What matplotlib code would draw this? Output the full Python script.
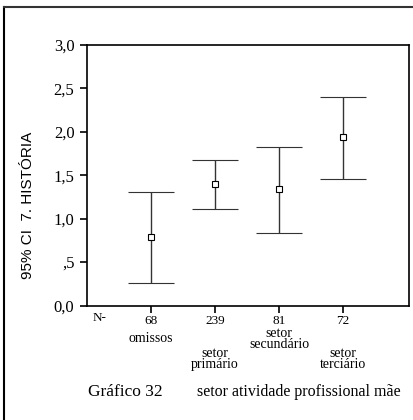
import matplotlib
matplotlib.use("Agg")
import matplotlib.pyplot as plt
from matplotlib.lines import Line2D
import matplotlib.transforms as mtransforms

# values
groups = ["omissos", "setor\nprimário", "setor\nsecundário", "setor\nterciário"]
counts = [68, 239, 81, 72]
means = [0.79, 1.40, 1.34, 1.94]
lower = [0.26, 1.11, 0.84, 1.46]
upper = [1.31, 1.68, 1.83, 2.40]
yticks = [0.0, 0.5, 1.0, 1.5, 2.0, 2.5, 3.0]
ytick_labels = ["0,0", ",5", "1,0", "1,5", "2,0", "2,5", "3,0"]

serif = "Liberation Serif"


def main():
    fig = plt.figure(figsize=(4.13, 4.2), dpi=100)
    W, H = 413, 420
    ax = fig.add_axes([87 / W, 1 - 305.5 / H, 322 / W, 260.5 / H])

    xs = list(range(1, len(groups) + 1))
    err_lo = [m - lo for m, lo in zip(means, lower)]
    err_hi = [hi - m for m, hi in zip(means, upper)]
    _, caps, bars = ax.errorbar(xs, means, yerr=[err_lo, err_hi], fmt="s",
                                mfc="white", mec="black", mew=0.8, ms=5,
                                ecolor="#333333", elinewidth=1.0,
                                capsize=16.5, capthick=1.6)
    for c in caps:
        c.set_color("#6e6e6e")

    ax.set_xlim(0, 5.03)
    ax.set_ylim(0, 3.0)
    ax.set_yticks(yticks)
    ax.set_yticklabels(ytick_labels, fontfamily=serif, fontsize=12)
    ax.set_xticks(xs)
    ax.set_xticklabels([str(c) for c in counts], fontfamily=serif, fontsize=9.5)
    ax.tick_params(axis="both", direction="out", length=5, width=1.2, colors="black")
    ax.tick_params(axis="x", pad=1.5)
    ax.tick_params(axis="y", pad=4)
    for s in ax.spines.values():
        s.set_linewidth(1.2)

    trans = mtransforms.blended_transform_factory(ax.transData, fig.transFigure)
    ax.text(0.08, 1 - 318 / H, "N-", transform=trans, fontfamily=serif,
            fontsize=9.5, ha="left", va="center")
    label_y = [338, 359, 339, 359]
    for x, g, y in zip(xs, groups, label_y):
        ax.text(x, 1 - y / H, g, transform=trans, fontfamily=serif,
                fontsize=10, ha="center", va="center", linespacing=0.8)

    fig.text(28 / W, 1 - 205 / H, "95% CI  7. HISTÓRIA", rotation=90,
             fontfamily="Liberation Sans", fontsize=11, ha="center", va="center")

    fig.text(88 / W, 1 - 392 / H, "Gráfico 32", fontfamily=serif,
             fontsize=12.5, ha="left", va="center")
    fig.text(197 / W, 1 - 392 / H, "setor atividade profissional mãe",
             fontfamily=serif, fontsize=11.5, ha="left", va="center")

    # outer frame (left and top edges visible)
    fig.add_artist(Line2D([4 / W, 4 / W], [0, 1 - 7 / H], transform=fig.transFigure,
                          color="black", lw=1.5))
    fig.add_artist(Line2D([4 / W, 1], [1 - 7 / H, 1 - 7 / H], transform=fig.transFigure,
                          color="#333333", lw=1.5))

    fig.savefig("out.png", dpi=100)


if __name__ == "__main__":
    main()
